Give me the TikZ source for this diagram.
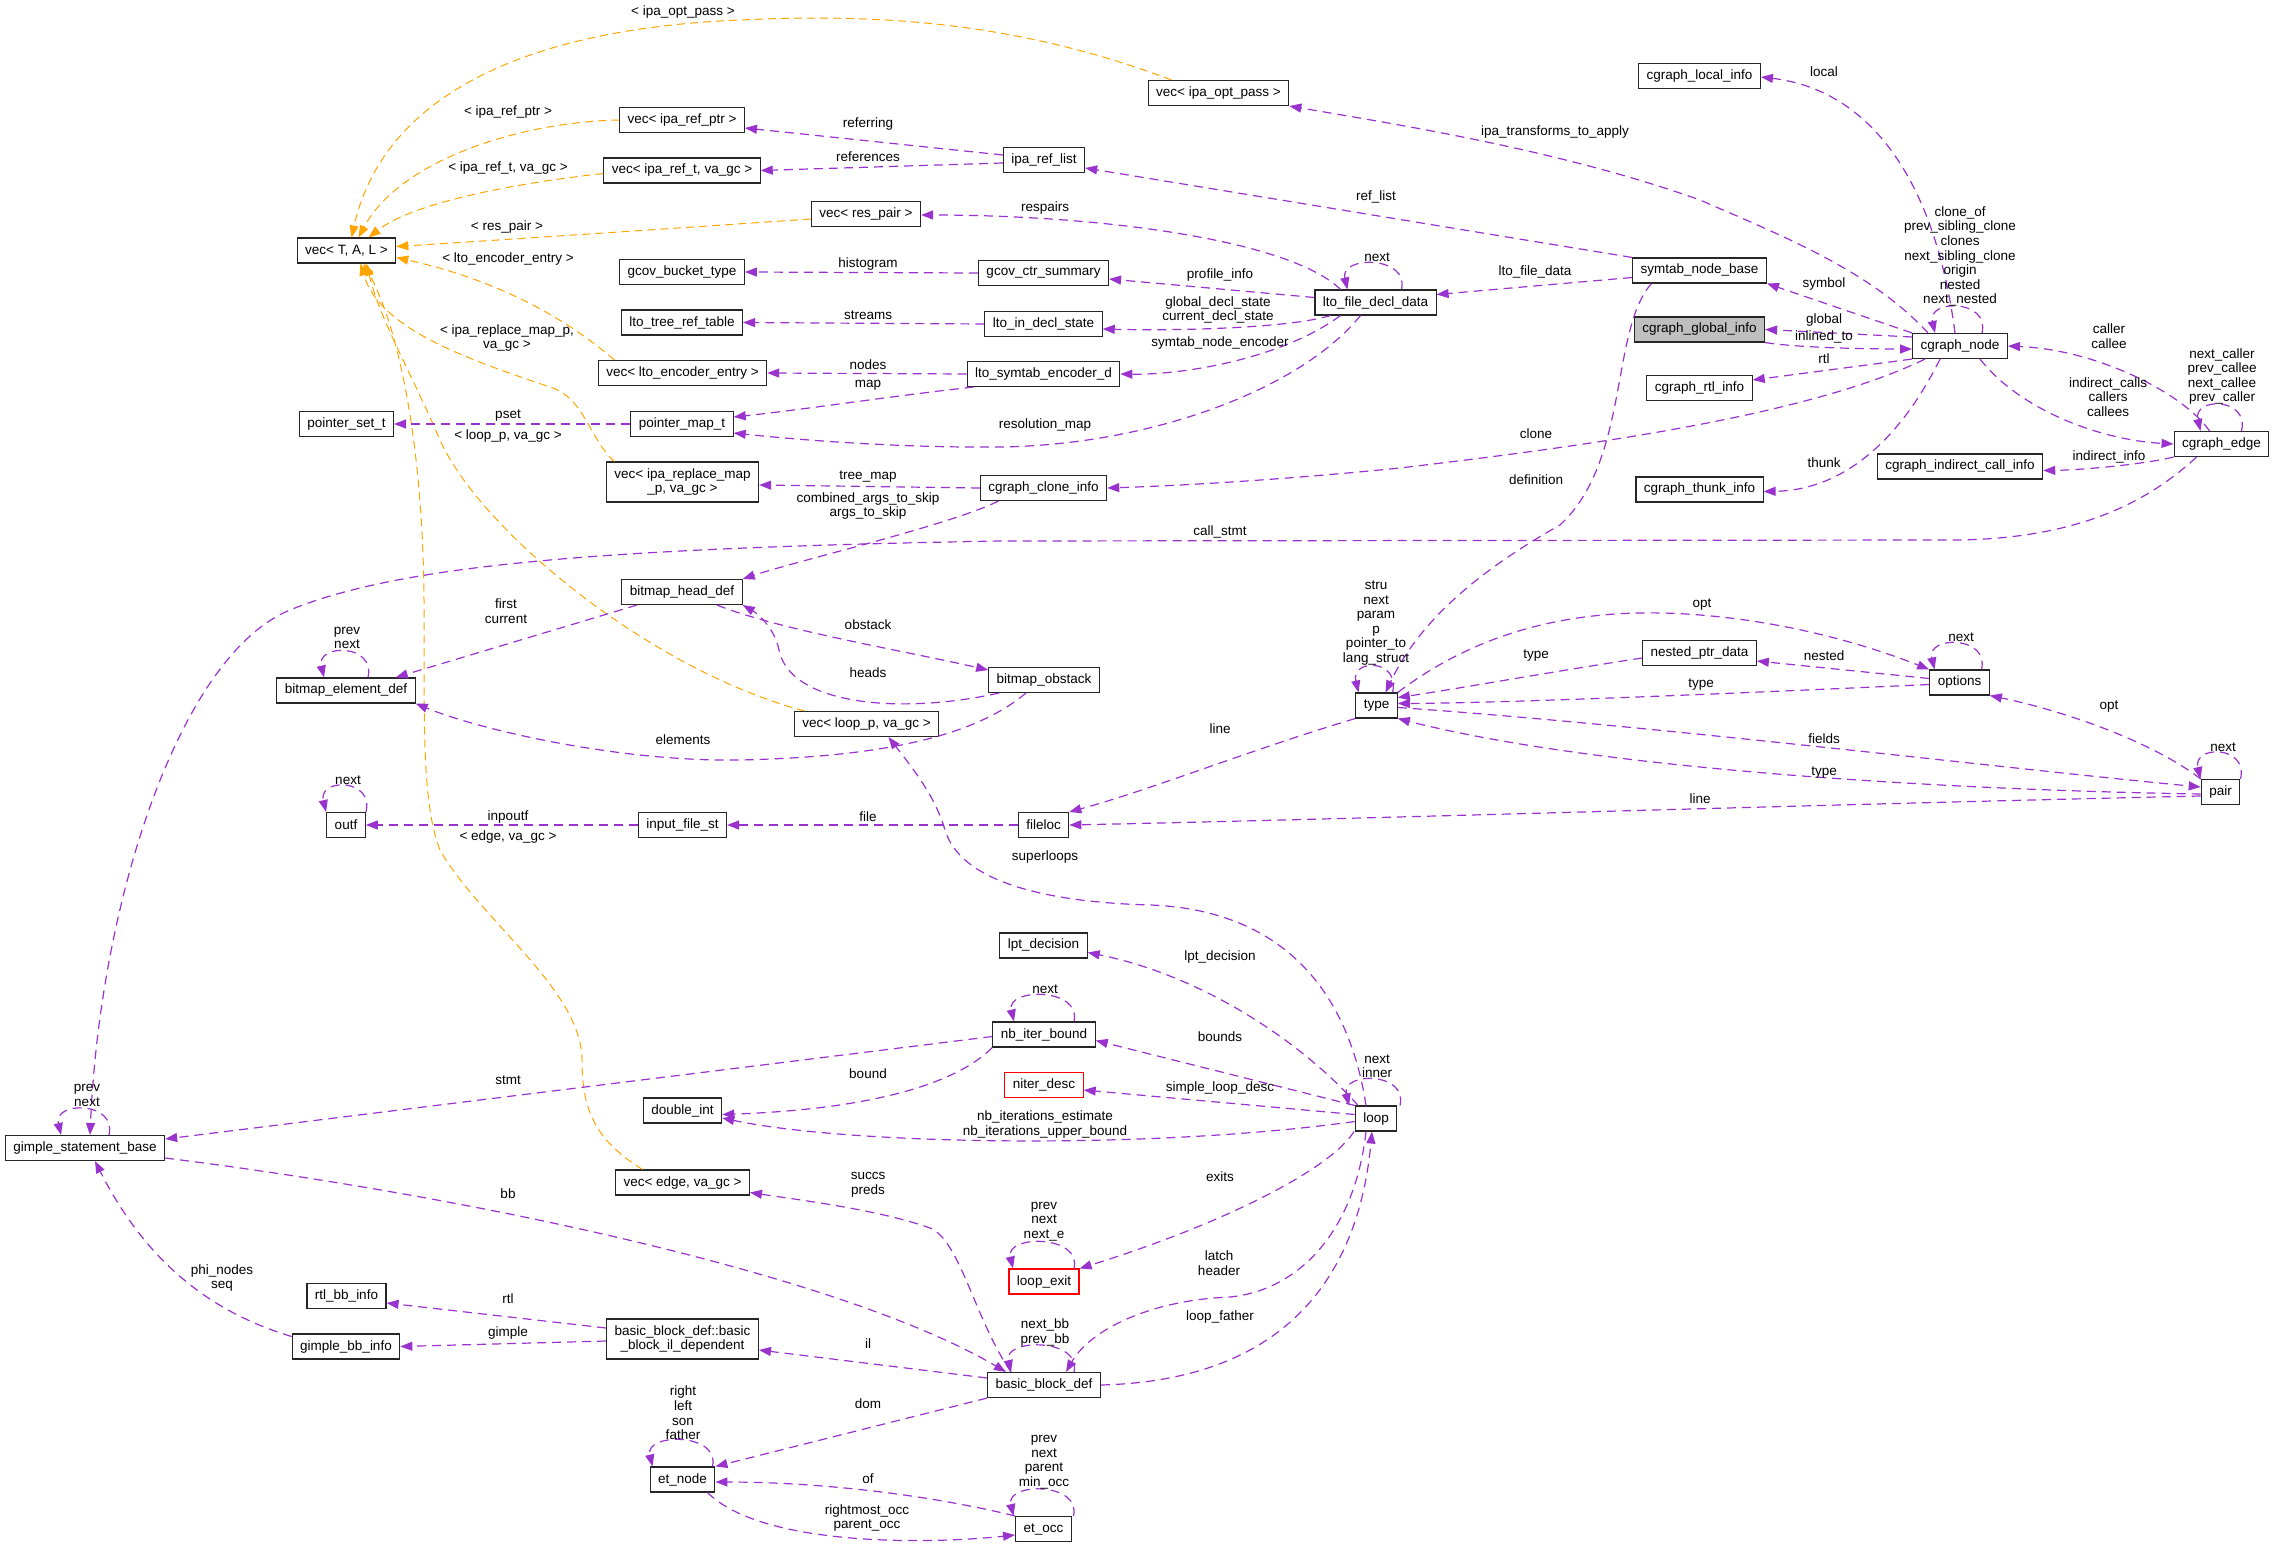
\documentclass[tikz,border=0pt]{standalone}
\usepackage{fontspec}
\setmainfont{Liberation Sans}
\usetikzlibrary{arrows.meta}
\definecolor{usecol}{HTML}{9A32CD}
\definecolor{tplcol}{HTML}{FFA500}
\newcommand{\selfedge}[3]{\draw[pe] ([xshift=#2]#1.north) .. controls +(8,-34) and +(-8,-34) .. ([xshift=#3]#1.north);}

\begin{document}
\begin{tikzpicture}[x=1pt, y=-1pt, font=\fontsize{13.5}{14.6}\selectfont,
  c/.style={draw=black!85, line width=1.1pt, minimum height=25pt, inner xsep=8pt, inner ysep=0pt, align=center},
  c2/.style={c, minimum height=40pt},
  cr/.style={c, draw=red},
  lb/.style={align=center, inner sep=0pt},
  pe/.style={draw=usecol, line width=1.2pt, dash pattern=on 9pt off 6pt, -{Triangle[length=12pt,width=9pt]}},
  oe/.style={draw=tplcol, line width=1pt, dash pattern=on 8pt off 5pt, -{Triangle[length=12pt,width=9pt]}}]
\useasboundingbox (0,0) rectangle (2275,1549);

\node[c] (vtal) at (346.5,250.5) {vec< T, A, L >};
\node[c] (vopt) at (1218.5,93) {vec< ipa\_opt\_pass >};
\node[c] (vptr) at (682,120) {vec< ipa\_ref\_ptr >};
\node[c] (vref) at (682,170.5) {vec< ipa\_ref\_t, va\_gc >};
\node[c] (vres) at (866,214) {vec< res\_pair >};
\node[c] (gbt) at (682,272) {gcov\_bucket\_type};
\node[c] (ltrt) at (682,322.5) {lto\_tree\_ref\_table};
\node[c] (venc) at (682.5,373) {vec< lto\_encoder\_entry >};
\node[c] (irl) at (1044,160) {ipa\_ref\_list};
\node[c] (gcs) at (1043.5,273) {gcov\_ctr\_summary};
\node[c] (lids) at (1043.5,324) {lto\_in\_decl\_state};
\node[c] (lfd) at (1375.5,302.5) {lto\_file\_decl\_data};
\node[c] (lse) at (1043.5,374) {lto\_symtab\_encoder\_d};
\node[c] (cli) at (1699.5,76) {cgraph\_local\_info};
\node[c] (snb) at (1699.5,270.5) {symtab\_node\_base};
\node[c, fill=black!25] (cgi) at (1699.5,329.5) {cgraph\_global\_info};
\node[c] (cn) at (1960,346) {cgraph\_node};
\node[c] (cri) at (1699.5,388) {cgraph\_rtl\_info};
\node[c] (ce) at (2221.5,444) {cgraph\_edge};
\node[c] (cici) at (1960,466.5) {cgraph\_indirect\_call\_info};
\node[c] (cti) at (1699.5,489.5) {cgraph\_thunk\_info};
\node[c] (npd) at (1699.5,653) {nested\_ptr\_data};
\node[c] (opts) at (1959.5,682.5) {options};
\node[c] (pr) at (2220.5,792) {pair};
\node[c] (pst) at (346.5,424) {pointer\_set\_t};
\node[c] (pmt) at (682,424) {pointer\_map\_t};
\node[c2] (vrm) at (682.5,482) {vec< ipa\_replace\_map\\\_p, va\_gc >};
\node[c] (bhd) at (682,592) {bitmap\_head\_def};
\node[c] (bed) at (346,690.5) {bitmap\_element\_def};
\node[c] (cci) at (1043.5,488) {cgraph\_clone\_info};
\node[c] (bob) at (1044,680) {bitmap\_obstack};
\node[c] (vloop) at (866.5,724) {vec< loop\_p, va\_gc >};
\node[c] (ty) at (1376.5,705.5) {type};
\node[c] (outf) at (346,825) {outf};
\node[c] (ifs) at (682.5,825) {input\_file\_st};
\node[c] (gsb) at (85,1148) {gimple\_statement\_base};
\node[c] (dint) at (682.5,1110.5) {double\_int};
\node[c] (floc) at (1043.5,825) {fileloc};
\node[c] (lpt) at (1043.5,945.5) {lpt\_decision};
\node[c] (nib) at (1044,1034.5) {nb\_iter\_bound};
\node[cr] (nd) at (1044,1085) {niter\_desc};
\node[c] (lp) at (1376,1118.5) {loop};
\node[c] (vedge) at (682.5,1182.5) {vec< edge, va\_gc >};
\node[c] (rbi) at (346.5,1296) {rtl\_bb\_info};
\node[c] (gbi) at (346,1346.5) {gimple\_bb\_info};
\node[c2] (bild) at (682.5,1339) {basic\_block\_def::basic\\\_block\_il\_dependent};
\node[c] (etn) at (682.5,1479.5) {et\_node};
\node[cr] (lex) at (1044,1281.5) {loop\_exit};
\node[c] (bbd) at (1044,1385) {basic\_block\_def};
\node[c] (eto) at (1043.5,1529) {et\_occ};

\draw[oe] ([xshift=-47]vopt.north) .. controls (1000,15) and (850,15) .. (740,20) .. controls (500,30) and (380,110) .. ([xshift=5]vtal.north);
\draw[oe] (vptr.west) .. controls (520,122) and (400,160) .. ([xshift=12]vtal.north);
\draw[oe] ([yshift=-3]vref.west) .. controls (500,185) and (410,205) .. ([xshift=22]vtal.north);
\draw[oe] ([yshift=-5]vres.west) .. controls (650,230) and (500,240) .. ([yshift=4]vtal.east);
\draw[oe] ([xshift=-68]venc.north) .. controls (585,335) and (520,285) .. ([yshift=-7]vtal.east);
\draw[oe] ([xshift=-68]vrm.north) .. controls (590,440) and (585,400) .. (553,388) .. controls (470,360) and (380,330) .. ([xshift=14]vtal.south);
\draw[oe] ([xshift=-62]vloop.north) .. controls (650,670) and (480,530) .. (440,440) .. controls (410,370) and (380,320) .. ([xshift=20]vtal.south);
\draw[oe] ([xshift=-40]vedge.north) .. controls (595,1140) and (582,1110) .. (582,1060) .. controls (582,990) and (480,920) .. (440,850) .. controls (420,800) and (425,700) .. (424,600) .. controls (423,450) and (400,330) .. ([xshift=17]vtal.south);
\node[lb] (tOpt) at (683,12) {< ipa\_opt\_pass >};
\node[lb] (tPtr) at (508,112) {< ipa\_ref\_ptr >};
\node[lb] (tRef) at (508,168) {< ipa\_ref\_t, va\_gc >};
\node[lb] (tRes) at (507,227) {< res\_pair >};
\node[lb] (tEnc) at (508,259) {< lto\_encoder\_entry >};
\node[lb] (tRm) at (507,338) {< ipa\_replace\_map\_p,\\va\_gc >};
\node[lb] (tLoop) at (508,436) {< loop\_p, va\_gc >};
\node[lb] (tEdge) at (508,837) {< edge, va\_gc >};

\draw[pe] ([yshift=5]irl.west) -- ([yshift=-8]vptr.east);
\draw[pe] ([yshift=-3]irl.west) -- (vref.east);
\draw[pe] (snb.north west) -- ([yshift=-8]irl.east);
\draw[pe] ([xshift=-32]cn.north) .. controls (1870,270) and (1780,235) .. (1700,200) .. controls (1560,150) and (1400,125) .. (vopt.south east);
\draw[pe] ([xshift=-35]lfd.north) .. controls (1290,240) and (1100,215) .. ([yshift=-1]vres.east);
\draw[pe] (gcs.west) -- (gbt.east);
\draw[pe] ([yshift=5]lfd.west) -- ([yshift=-6]gcs.east);
\draw[pe] (lids.west) -- (ltrt.east);
\draw[pe] ([xshift=-45]lfd.south) .. controls (1290,328) and (1180,331) .. ([yshift=-5]lids.east);
\draw[pe] (lse.west) -- (venc.east);
\draw[pe] ([xshift=-35]lfd.south) .. controls (1280,360) and (1180,375) .. (lse.east);
\draw[pe] ([xshift=-70]lse.south) .. controls (900,395) and (800,410) .. ([yshift=7]pmt.east);
\draw[pe] ([xshift=-15]lfd.south) .. controls (1300,390) and (1150,445) .. (1000,447) .. controls (900,448) and (800,440) .. ([yshift=-9]pmt.east);
\selfedge{lfd}{26}{-28}
\draw[pe] ([yshift=-7]snb.west) -- ([yshift=8]lfd.east);
\draw[pe] (pmt.west) -- (pst.east);
\draw[pe] (cci.west) -- ([yshift=-3]vrm.east);
\draw[pe] ([xshift=-45]cci.south) .. controls (950,525) and (800,560) .. (bhd.north east);
\draw[pe] ([xshift=-35]cn.south) .. controls (1800,420) and (1550,450) .. (1400,468) .. controls (1300,478) and (1200,485) .. (cci.east);
\draw[pe] ([xshift=-5]cn.north) .. controls (1935,180) and (1870,90) .. ([yshift=-1]cli.east);
\draw[pe] (cn.north west) -- (snb.south east);
\draw[pe] ([yshift=9]cn.west) -- (cgi.east);
\draw[pe] (cgi.south east) .. controls (1800,348) and (1870,349) .. ([yshift=-3]cn.west);
\draw[pe] (cn.south west) -- ([yshift=8]cri.east);
\selfedge{cn}{22}{-25}
\draw[pe] ([xshift=-12]ce.north) .. controls (2185,395) and (2100,350) .. (cn.east);
\draw[pe] ([xshift=20]cn.south) .. controls (2020,410) and (2100,440) .. (ce.west);
\selfedge{ce}{20}{-21}
\draw[pe] ([xshift=-20]cn.south) .. controls (1905,430) and (1850,490) .. ([yshift=-2]cti.east);
\draw[pe] (ce.south west) .. controls (2140,465) and (2080,470) .. ([yshift=-4]cici.east);
\draw[pe] ([xshift=-25]ce.south) .. controls (2150,500) and (2080,540) .. (1950,540) -- (1000,541) .. controls (600,548) and (400,565) .. (290,610) .. controls (180,655) and (100,900) .. ([xshift=5]gsb.north);
\draw[pe] ([xshift=-48]snb.south) .. controls (1610,330) and (1630,460) .. (1560,525) .. controls (1480,570) and (1420,620) .. ([xshift=9]ty.north);

\selfedge{ty}{16}{-18}
\draw[pe] (ty.north east) .. controls (1480,630) and (1580,605) .. (1700,615) .. controls (1800,623) and (1880,650) .. (opts.north west);
\draw[pe] ([yshift=4]opts.west) -- ([yshift=-8]npd.east);
\draw[pe] ([yshift=-5]npd.west) .. controls (1550,672) and (1450,690) .. ([yshift=8]ty.east);
\draw[pe] ([yshift=-2]opts.west) .. controls (1700,695) and (1500,703) .. ([yshift=2]ty.east);
\draw[pe] ([yshift=-2]ty.east) .. controls (1650,725) and (2000,768) .. ([yshift=5]pr.west);
\draw[pe] ([yshift=-2]pr.west) .. controls (1950,790) and (1600,770) .. (ty.south east);
\draw[pe] (pr.north west) .. controls (2150,740) and (2060,710) .. (opts.south east);
\selfedge{pr}{20}{-20}
\selfedge{opts}{22}{-25}
\draw[pe] (ty.south west) .. controls (1250,750) and (1150,790) .. (floc.north east);
\draw[pe] ([yshift=-4]pr.west) .. controls (1800,805) and (1400,818) .. (floc.east);
\draw[pe] (floc.west) -- (ifs.east);
\draw[pe] (ifs.west) -- (outf.east);
\selfedge{outf}{20}{-20}

\draw[pe] ([xshift=-10]lp.north) .. controls (1350,1000) and (1290,910) .. (1150,905) .. controls (1040,902) and (960,880) .. (945,830) .. controls (935,795) and (910,765) .. ([xshift=22]vloop.south);
\draw[pe] ([xshift=-18]lp.north) .. controls (1300,1040) and (1200,975) .. ([yshift=-7]lpt.east);
\draw[pe] (lp.north west) -- ([yshift=-6]nib.east);
\selfedge{nib}{30}{-30}
\draw[pe] ([yshift=-2]nib.west) -- ([yshift=9]gsb.east);
\draw[pe] (nib.south west) .. controls (950,1090) and (850,1110) .. ([yshift=-4]dint.east);
\draw[pe] ([yshift=4]lp.west) -- ([yshift=-5]nd.east);
\draw[pe] ([yshift=-3]lp.west) .. controls (1150,1150) and (850,1145) .. ([yshift=-7.5]dint.east);
\selfedge{lp}{24}{-27}
\draw[pe] ([xshift=-22]lp.south) .. controls (1330,1170) and (1220,1225) .. (lex.north east);
\selfedge{lex}{30}{-31}
\draw[pe] ([xshift=-10]lp.south) .. controls (1355,1230) and (1300,1290) .. (1230,1297) .. controls (1150,1300) and (1090,1330) .. ([xshift=22]bbd.north);
\draw[pe] (bbd.east) .. controls (1300,1380) and (1360,1260) .. ([xshift=-4]lp.south);
\draw[pe] ([xshift=-33]bbd.north) .. controls (975,1320) and (960,1240) .. (930,1228) .. controls (880,1210) and (800,1200) .. ([yshift=-10]vedge.east);
\draw[pe] ([yshift=-10]gsb.east) .. controls (500,1200) and (850,1280) .. ([xshift=-38]bbd.north);
\selfedge{bbd}{30}{-33}
\draw[pe] ([yshift=7]bbd.west) -- ([yshift=-11]bild.east);
\draw[pe] ([yshift=11]bild.west) -- ([yshift=-7]rbi.east);
\draw[pe] ([yshift=-2]bild.west) -- (gbi.east);
\draw[pe] ([yshift=10]gbi.west) .. controls (220,1315) and (150,1270) .. ([xshift=10]gsb.south);
\selfedge{gsb}{24}{-24}
\draw[pe] (bbd.south west) -- (etn.north east);
\selfedge{etn}{30}{-30}
\draw[pe] (eto.north west) .. controls (930,1495) and (820,1482) .. ([yshift=-2.5]etn.east);
\draw[pe] ([xshift=25]etn.south) .. controls (760,1545) and (920,1545) .. ([yshift=-6]eto.west);
\selfedge{eto}{30}{-30}

\draw[pe] ([xshift=-45]bhd.south) -- ([xshift=-20]bed.north east);
\selfedge{bed}{22}{-22}
\draw[pe] ([xshift=35]bhd.south) .. controls (780,630) and (900,650) .. ([yshift=10]bob.west);
\draw[pe] ([xshift=-45]bob.south) .. controls (900,715) and (790,705) .. (779,650) .. controls (775,630) and (760,615) .. (bhd.south east);
\draw[pe] ([xshift=-18]bob.south) .. controls (970,740) and (870,757) .. (740,760) .. controls (620,762) and (480,730) .. (bed.south east);

\node[lb] (lReferring) at (868,124) {referring};
\node[lb] (lReferences) at (868,157) {references};
\node[lb] (lRefList) at (1376,197) {ref\_list};
\node[lb] (lTransforms) at (1555,132) {ipa\_transforms\_to\_apply};
\node[lb] (lRespairs) at (1045,208) {respairs};
\node[lb] (lHistogram) at (868,264) {histogram};
\node[lb] (lProfile) at (1220,275) {profile\_info};
\node[lb] (lDeclState) at (1218,310) {global\_decl\_state\\current\_decl\_state};
\node[lb] (lStreams) at (868,315) {streams};
\node[lb] (lEncoder) at (1220,343) {symtab\_node\_encoder};
\node[lb] (lNodes) at (868,365) {nodes};
\node[lb] (lMap) at (868,385) {map};
\node[lb] (lLfdNext) at (1377,257) {next};
\node[lb] (lResolution) at (1045,425) {resolution\_map};
\node[lb] (lFileData) at (1535,272) {lto\_file\_data};
\node[lb] (lPset) at (508,416) {pset};
\node[lb] (lTreeMap) at (868,477) {tree\_map};
\node[lb] (lArgs) at (868,506) {combined\_args\_to\_skip\\args\_to\_skip};
\node[lb] (lClone) at (1536,434) {clone};
\node[lb] (lLocal) at (1824,72) {local};
\node[lb] (lCnSelf) at (1960,256.5) {clone\_of\\prev\_sibling\_clone\\clones\\next\_sibling\_clone\\origin\\nested\\next\_nested};
\node[lb] (lSymbol) at (1824,284) {symbol};
\node[lb] (lGlobal) at (1824,320) {global};
\node[lb] (lInlined) at (1824,337) {inlined\_to};
\node[lb] (lRtl) at (1824,359) {rtl};
\node[lb] (lCaller) at (2109,336) {caller\\callee};
\node[lb] (lCeSelf) at (2222,376.5) {next\_caller\\prev\_callee\\next\_callee\\prev\_caller};
\node[lb] (lCalls) at (2108,397) {indirect\_calls\\callers\\callees};
\node[lb] (lThunk) at (1824,463) {thunk};
\node[lb] (lIndirect) at (2109,457) {indirect\_info};
\node[lb] (lCallStmt) at (1220,532) {call\_stmt};
\node[lb] (lDefinition) at (1536,480) {definition};
\node[lb] (lTySelf) at (1376,623) {stru\\next\\param\\p\\pointer\_to\\lang\_struct};
\node[lb] (lTyOpt) at (1702,605) {opt};
\node[lb] (lNested) at (1824,656) {nested};
\node[lb] (lNpdType) at (1536,656) {type};
\node[lb] (lOptType) at (1701,685) {type};
\node[lb] (lFields) at (1824,739) {fields};
\node[lb] (lPairType) at (1824,773) {type};
\node[lb] (lPairOpt) at (2109,707) {opt};
\node[lb] (lPairNext) at (2223,747) {next};
\node[lb] (lOptNext) at (1961,637) {next};
\node[lb] (lTyLine) at (1220,729) {line};
\node[lb] (lPairLine) at (1700,799) {line};
\node[lb] (lFile) at (868,817) {file};
\node[lb] (lInpoutf) at (508,817) {inpoutf};
\node[lb] (lOutfNext) at (348,780) {next};
\node[lb] (lSuperloops) at (1045,857) {superloops};
\node[lb] (lLpt) at (1220,957) {lpt\_decision};
\node[lb] (lBounds) at (1220,1037) {bounds};
\node[lb] (lNibNext) at (1045,989) {next};
\node[lb] (lStmt) at (508,1080) {stmt};
\node[lb] (lBound) at (868,1074) {bound};
\node[lb] (lSimple) at (1220,1088) {simple\_loop\_desc};
\node[lb] (lIterations) at (1045,1124.5) {nb\_iterations\_estimate\\nb\_iterations\_upper\_bound};
\node[lb] (lLoopSelf) at (1377,1066) {next\\inner};
\node[lb] (lExits) at (1220,1177) {exits};
\node[lb] (lExitSelf) at (1044,1221.5) {prev\\next\\next\_e};
\node[lb] (lLatch) at (1219,1263) {latch\\header};
\node[lb] (lFather) at (1220,1317) {loop\_father};
\node[lb] (lSuccs) at (868,1184.5) {succs\\preds};
\node[lb] (lBb) at (508,1194) {bb};
\node[lb] (lBbSelf) at (1045,1332.5) {next\_bb\\prev\_bb};
\node[lb] (lIl) at (868,1344) {il};
\node[lb] (lBbRtl) at (508,1299) {rtl};
\node[lb] (lGimple) at (508,1333) {gimple};
\node[lb] (lPhi) at (222,1278) {phi\_nodes\\seq};
\node[lb] (lDom) at (868,1404) {dom};
\node[lb] (lEtnSelf) at (683,1413) {right\\left\\son\\father};
\node[lb] (lOf) at (868,1479) {of};
\node[lb] (lOcc) at (867,1518) {rightmost\_occ\\parent\_occ};
\node[lb] (lEtoSelf) at (1044,1462) {prev\\next\\parent\\min\_occ};
\node[lb] (lFirst) at (506,611) {first\\current};
\node[lb] (lBedSelf) at (347,638) {prev\\next};
\node[lb] (lObstack) at (868,625) {obstack};
\node[lb] (lHeads) at (868,673) {heads};
\node[lb] (lElements) at (683,740) {elements};
\node[lb] (lGsbSelf) at (87,1095.5) {prev\\next};
\end{tikzpicture}
\end{document}
